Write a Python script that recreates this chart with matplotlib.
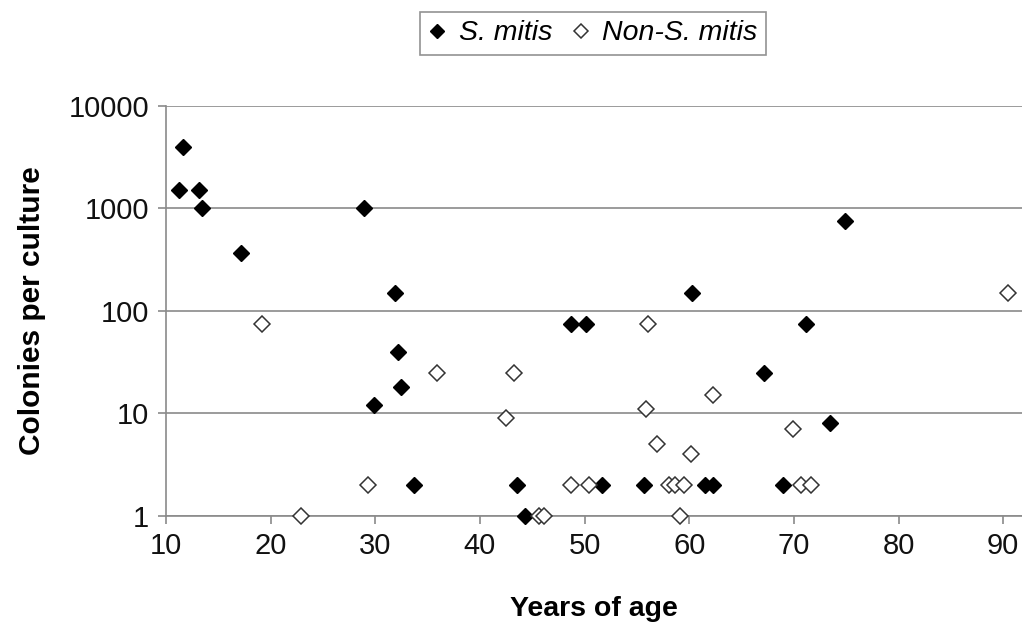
import matplotlib
matplotlib.use("Agg")
import matplotlib.pyplot as plt
from matplotlib.ticker import FixedLocator, FixedFormatter, NullLocator

# S. mitis isolates
sm_age = [11.2, 11.6, 13.2, 13.4, 17.2, 28.9, 29.9, 31.9, 32.2, 32.5, 33.7,
          43.5, 44.3, 48.7, 50.1, 51.7, 55.7, 60.3, 61.5, 62.3, 67.1, 69.0,
          71.2, 73.5, 74.9]
sm_col = [1500, 4000, 1500, 1000, 370, 1000, 12, 150, 40, 18, 2,
          2, 1, 75, 75, 2, 2, 150, 2, 2, 25, 2,
          75, 8, 750]

# Non-S. mitis isolates
non_age = [19.2, 22.9, 29.3, 35.9, 42.5, 43.3, 45.6, 46.1, 48.7, 50.4, 55.9,
           56.1, 56.9, 58.1, 58.6, 59.1, 59.5, 60.2, 62.3, 69.9, 70.7, 71.6, 90.5]
non_col = [75, 1, 2, 25, 9, 25, 1, 1, 2, 2, 11,
           75, 5, 2, 2, 1, 2, 4, 15, 7, 2, 2, 150]

x_ticks = [10, 20, 30, 40, 50, 60, 70, 80, 90]
y_ticks = [1, 10, 100, 1000, 10000]
y_labels = ["1", "10", "100", "1000", "10000"]

plt.rcParams['font.family'] = ['Liberation Sans', 'DejaVu Sans']

fig = plt.figure(figsize=(10.22, 6.26), dpi=100)
ax = fig.add_axes([166 / 1022, 1 - 515.7 / 626, 1 - 166 / 1022, (515.7 - 106) / 626])

ax.plot(sm_age, sm_col, 'D', color='black', markersize=8.5, label='S. mitis',
        clip_on=False, zorder=3)
ax.plot(non_age, non_col, 'D', markerfacecolor='white', markeredgecolor='#333333',
        markeredgewidth=1.1, markersize=8.5, label='Non-S. mitis',
        clip_on=False, zorder=4)

ax.set_yscale('log')
ax.set_ylim(1, 10000)
ax.set_xlim(10, 91.8)
ax.yaxis.set_major_locator(FixedLocator(y_ticks))
ax.yaxis.set_major_formatter(FixedFormatter(y_labels))
ax.yaxis.set_minor_locator(NullLocator())
ax.set_xticks(x_ticks)

ax.grid(axis='y', color='#8a8a8a', linewidth=1.2)
ax.set_axisbelow(True)
for side in ['top', 'right']:
    ax.spines[side].set_visible(False)
for side in ['left', 'bottom']:
    ax.spines[side].set_color('#8a8a8a')
    ax.spines[side].set_linewidth(1.2)
ax.tick_params(axis='both', direction='out', length=6, width=1.2,
               color='#8a8a8a', labelsize=21, labelcolor='#111111', pad=6)

ax.set_xlabel('Years of age', fontsize=20.5, fontweight='bold', labelpad=26)
ax.set_ylabel('Colonies per culture', fontsize=21.5, fontweight='bold', labelpad=16)

leg = fig.legend(loc='center', bbox_to_anchor=(593 / 1022, 1 - 33.5 / 626),
                 ncol=2, frameon=True, fancybox=False, markerscale=0.8,
                 handlelength=0.6, handletextpad=0.45, columnspacing=0.7,
                 borderpad=0.3, prop={'style': 'italic', 'size': 20.5})
leg.get_frame().set_edgecolor('#777777')
leg.get_frame().set_linewidth(1.2)

fig.savefig('out.png', dpi=100)
